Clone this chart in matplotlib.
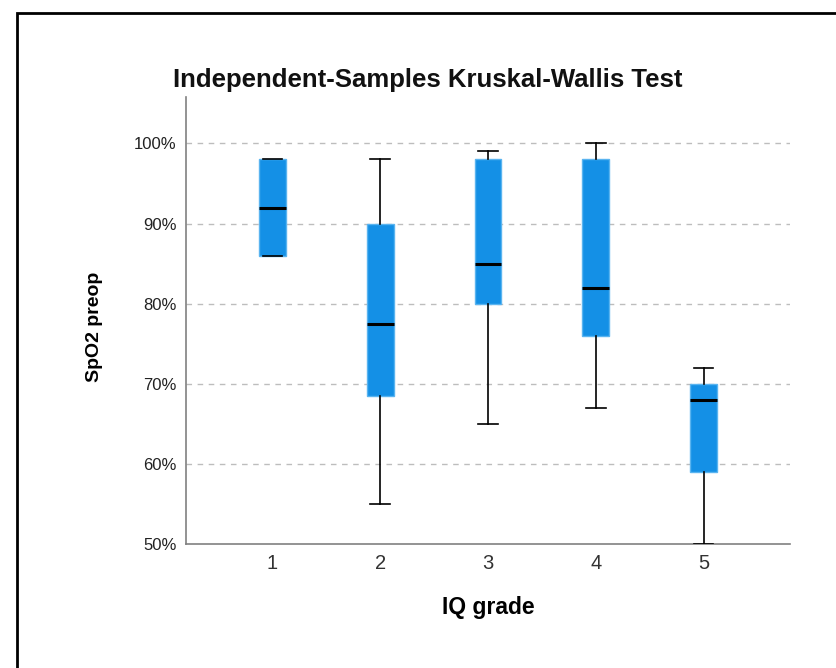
import matplotlib
matplotlib.use("Agg")
import matplotlib.pyplot as plt
from matplotlib.patches import Rectangle
from matplotlib.ticker import FuncFormatter

plt.rcParams['font.family'] = ['Liberation Sans', 'DejaVu Sans']

categories = ["1", "2", "3", "4", "5"]
whisker_low = [86, 55, 65, 67, 50]
q1 = [86, 68.5, 80, 76, 59]
median = [92, 77.5, 85, 82, 68]
q3 = [98, 90, 98, 98, 70]
whisker_high = [98, 98, 99, 100, 72]
yticks = [50, 60, 70, 80, 90, 100]

W, H = 837, 668
fig = plt.figure(figsize=(W / 100, H / 100), dpi=100)
ax = fig.add_axes([186 / W, 1 - 544 / H, (790 - 186) / W, (544 - 97) / H])

stats = []
for i, c in enumerate(categories):
    stats.append(dict(label=c, whislo=whisker_low[i], q1=q1[i], med=median[i],
                      q3=q3[i], whishi=whisker_high[i], fliers=[]))

positions = list(range(1, len(categories) + 1))
ax.bxp(stats, positions=positions, widths=0.25, capwidths=0.18, patch_artist=True,
       showfliers=False,
       boxprops=dict(facecolor='#1490E6', edgecolor='#5AB4F0', linewidth=1.0),
       medianprops=dict(color='black', linewidth=2.2),
       whiskerprops=dict(color='black', linewidth=1.2),
       capprops=dict(color='black', linewidth=1.2), zorder=3)

ax.set_xlim(0.2, 5.8)
ax.set_ylim(50, 105.8)
ax.set_yticks(yticks)
ax.yaxis.set_major_formatter(FuncFormatter(lambda v, p: f"{int(v)}%"))
for y in yticks[1:]:
    ax.axhline(y, color='#BDBDBD', linestyle=(0, (4, 4)), linewidth=1.0, zorder=1)

for s in ['top', 'right']:
    ax.spines[s].set_visible(False)
for s in ['left', 'bottom']:
    ax.spines[s].set_color('#808080')
    ax.spines[s].set_linewidth(1.2)
ax.tick_params(axis='y', length=0, pad=7, labelsize=12, colors='#222222')
ax.tick_params(axis='x', length=0, pad=7, labelsize=14.5, colors='#333333')

fig.text(428 / W, 1 - 80 / H, "Independent-Samples Kruskal-Wallis Test",
         ha='center', va='center', fontsize=18.5, fontweight='bold', color='#111111')
ax.set_xlabel("IQ grade", fontsize=16.5, fontweight='bold', labelpad=17)
fig.text(95 / W, 1 - 327 / H, "SpO2 preop", rotation=90, ha='center', va='center',
         fontsize=14, fontweight='bold')

# outer frame
fig.patches.append(Rectangle((17 / W, -0.1), 1.2, 1 - 13 / H + 0.1,
                             transform=fig.transFigure, fill=False,
                             edgecolor='black', linewidth=2.0))

fig.savefig("out.png", dpi=100)
